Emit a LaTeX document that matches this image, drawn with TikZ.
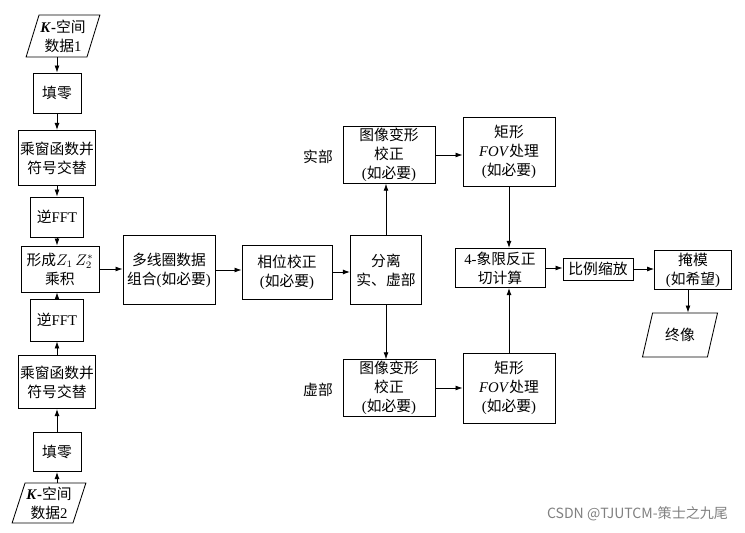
\documentclass[tikz,border=0pt]{standalone}
\usepackage{fontspec}
\setmainfont{Liberation Serif}
\newfontfamily\cjk{Noto Sans CJK SC}
\usepackage{tikz}
\usetikzlibrary{arrows.meta, positioning, shapes.geometric}
\newcommand{\en}[1]{{\rmfamily #1}}

\begin{document}
\begin{tikzpicture}[x=0.025cm, y=-0.025cm,
  box/.style={draw, line width=0.6pt, inner sep=1pt, align=center, font=\cjk\fontsize{10.5}{13.5}\selectfont},
  io/.style={draw, line width=0.6pt, trapezium, trapezium stretches=true, trapezium left angle=70, trapezium right angle=110, inner sep=1pt, align=center, font=\cjk\fontsize{10.5}{13.5}\selectfont},
  arr/.style={-{Latex[length=5pt, width=3.5pt]}, line width=0.6pt},
  lbl/.style={font=\cjk\fontsize{10.5}{13}\selectfont},
]
\useasboundingbox (0,0) rectangle (745,533);

% left column: two K-space inputs
\node[io, minimum width=1.8cm, minimum height=1.05cm] (data1) at (63, 36) {\en{\textbf{\textit{K}}\textbf{-}}空间\\数据\en{1}};
\node[box, minimum width=1.2cm, minimum height=1.0cm] (zero1) at (57, 93) {填零};
\node[box, minimum width=1.92cm, minimum height=1.38cm] (win1) at (57, 158) {乘窗函数并\\符号交替};
\node[box, minimum width=1.32cm, minimum height=1.0cm] (fft1) at (57, 217) {逆\en{FFT}};
\node[box, minimum width=1.95cm, minimum height=1.15cm] (form) at (60, 269) {形成$Z_1\,Z_2^*$\\乘积};
\node[box, minimum width=1.32cm, minimum height=1.05cm] (fft2) at (57, 320) {逆\en{FFT}};
\node[box, minimum width=1.92cm, minimum height=1.33cm] (win2) at (57, 382) {乘窗函数并\\符号交替};
\node[box, minimum width=1.2cm, minimum height=0.98cm] (zero2) at (57, 452) {填零};
\node[io, minimum width=1.8cm, minimum height=1.0cm] (data2) at (49, 503) {\en{\textbf{\textit{K}}\textbf{-}}空间\\数据\en{2}};

% middle
\node[box, minimum width=2.3cm, minimum height=1.72cm] (multi) at (169, 270) {多线圈数据\\组合\en{(}如必要\en{)}};
\node[box, minimum width=2.25cm, minimum height=1.35cm] (phase) at (287, 272) {相位校正\\\en{(}如必要\en{)}};
\node[box, minimum width=1.78cm, minimum height=1.72cm] (sep) at (386, 270) {分离\\实、虚部};
\node[box, minimum width=2.3cm, minimum height=1.3cm] (warp1) at (389, 155) {图像变形\\校正\\\en{(}如必要\en{)}};
\node[box, minimum width=2.3cm, minimum height=1.3cm] (warp2) at (389, 388) {图像变形\\校正\\\en{(}如必要\en{)}};
\node[lbl] (re) at (318, 157) {实部};
\node[lbl] (im) at (318, 390) {虚部};

% right
\node[box, minimum width=2.3cm, minimum height=1.72cm] (fov1) at (509, 152) {矩形\\\en{\textit{FOV}}处理\\\en{(}如必要\en{)}};
\node[box, minimum width=2.3cm, minimum height=1.75cm] (fov2) at (509, 388) {矩形\\\en{\textit{FOV}}处理\\\en{(}如必要\en{)}};
\node[box, minimum width=2.25cm, minimum height=0.98cm] (atan) at (500, 268) {\en{4-}象限反正\\切计算};
\node[box, minimum width=1.75cm, minimum height=0.55cm] (scale) at (598, 269) {比例缩放};
\node[box, minimum width=1.92cm, minimum height=0.98cm] (mask) at (693, 270) {掩模\\\en{(}如希望\en{)}};
\node[io, minimum width=1.88cm, minimum height=1.1cm] (final) at (680, 335) {终像};

\draw[arr] (zero1.north |- data1.south) -- (zero1.north);
\draw[arr] (zero1) -- (win1);
\draw[arr] (win1) -- (fft1);
\draw[arr] (fft1.south) -- (fft1.south |- form.north);
\draw[arr] (zero2.south |- data2.north) -- (zero2.south);
\draw[arr] (zero2) -- (win2);
\draw[arr] (win2) -- (fft2);
\draw[arr] (fft2.north) -- (fft2.north |- form.south);

\draw[arr] (form.east) -- (form.east -| multi.west);
\draw[arr] (multi.east) -- (multi.east -| phase.west);
\draw[arr] (phase.east) -- (phase.east -| sep.west);
\draw[arr] (sep) -- (sep |- warp1.south);
\draw[arr] (sep) -- (sep |- warp2.north);
\draw[arr] (warp1.east) -- (warp1.east -| fov1.west);
\draw[arr] (warp2.east) -- (warp2.east -| fov2.west);
\draw[arr] (fov1.south) -- (fov1.south |- atan.north);
\draw[arr] (fov2.north) -- (fov2.north |- atan.south);
\draw[arr] (atan.east) -- (atan.east -| scale.west);
\draw[arr] (scale.east) -- (scale.east -| mask.west);
\draw[arr] (mask.south -| final.north) ++(8,0) coordinate (mk) -- (mk |- final.north);

\node[font=\cjk\fontsize{10}{12}\selectfont, text=gray, anchor=east] (mark) at (733, 514) {CSDN @TJUTCM-策士之九尾};

\end{tikzpicture}
\end{document}
